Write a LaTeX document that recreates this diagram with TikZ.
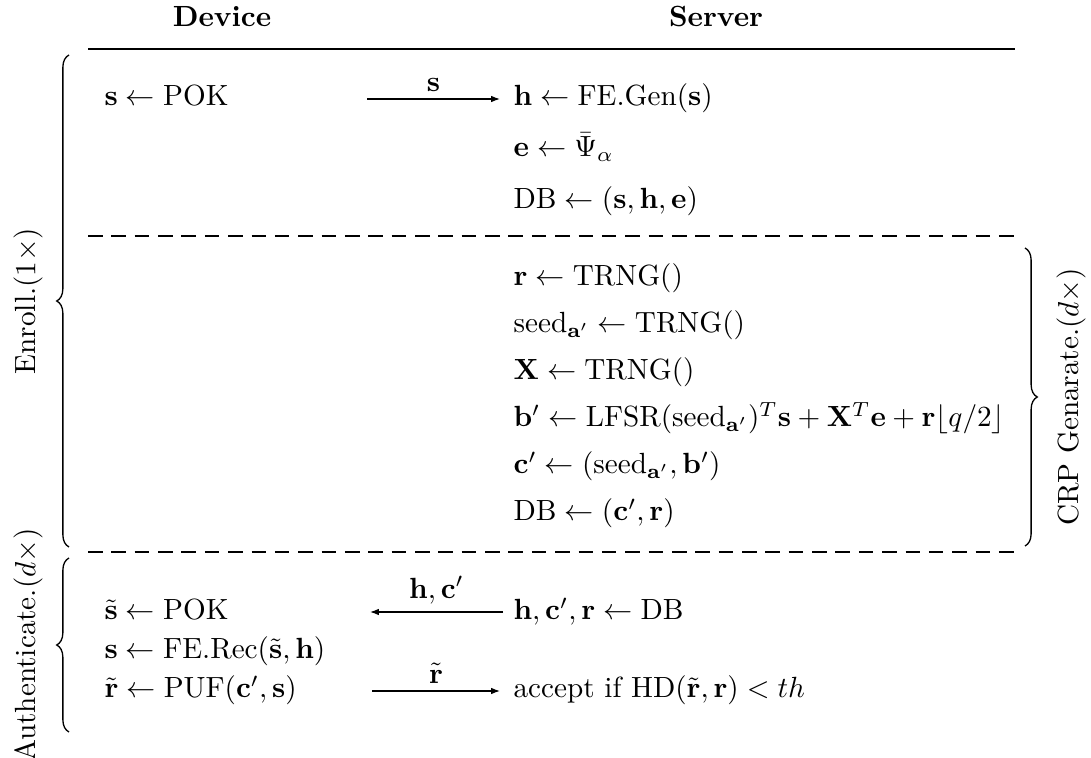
\documentclass[tikz,border=0pt]{standalone}
\usepackage{amsmath,amssymb}
\usetikzlibrary{decorations.pathreplacing,arrows.meta}
\begin{document}
\begin{tikzpicture}[x=0.3425pt,y=-0.3425pt,
  txt/.style={anchor=base west,inner sep=0pt},
  hdr/.style={anchor=base,inner sep=0pt,font=\bfseries},
  side/.style={rotate=90,inner sep=0pt},
  msg/.style={-{Latex[length=3pt,width=2.2pt]},line width=0.4pt},
  msglbl/.style={above=2.5pt,inner sep=0pt},
  rule/.style={line width=0.45pt},
  sep/.style={line width=0.45pt,dash pattern=on 5pt off 3pt},
  grp/.style={decorate,decoration={brace,amplitude=4.2pt},line width=0.45pt}]
\useasboundingbox (0,0) rectangle (1091,758);
% headers
\node[hdr] (hd) at (222,27) {Device};
\node[hdr] (hs) at (716,27) {Server};
\draw[rule] (88,49) -- (1015,49);
% enrolment
\node[txt] (d1) at (104,106) {$\mathbf{s} \leftarrow \mathrm{POK}$};
\node[txt] (s1) at (513,106) {$\mathbf{h} \leftarrow \mathrm{FE.Gen}(\mathbf{s})$};
\node[txt] (s2) at (513,157) {$\mathbf{e} \leftarrow \bar{\Psi}_\alpha$};
\node[txt] (s3) at (513,209) {$\mathrm{DB} \leftarrow (\mathbf{s},\mathbf{h},\mathbf{e})$};
\coordinate (a1s) at (367,99);
\coordinate (a1e) at (500,99);
\draw[msg] (a1s) -- node[msglbl] (l1) {$\mathbf{s}$} (a1e);
\draw[sep] (88,236) -- (1015,236);
% CRP generation
\node[txt] (g1) at (513,286) {$\mathbf{r} \leftarrow \mathrm{TRNG}()$};
\node[txt] (g2) at (513,333) {$\mathrm{seed}_{\mathbf{a}'} \leftarrow \mathrm{TRNG}()$};
\node[txt] (g3) at (513,380) {$\mathbf{X} \leftarrow \mathrm{TRNG}()$};
\node[txt] (g4) at (513,427) {$\mathbf{b}' \leftarrow \mathrm{LFSR}(\mathrm{seed}_{\mathbf{a}'})^T\mathbf{s} + \mathbf{X}^T\mathbf{e} + \mathbf{r}\lfloor q/2\rfloor$};
\node[txt] (g5) at (513,474) {$\mathbf{c}' \leftarrow (\mathrm{seed}_{\mathbf{a}'}, \mathbf{b}')$};
\node[txt] (g6) at (513,521) {$\mathrm{DB} \leftarrow (\mathbf{c}', \mathbf{r})$};
\draw[sep] (88,552) -- (1015,552);
% authentication
\node[txt] (u1) at (104,620) {$\tilde{\mathbf{s}} \leftarrow \mathrm{POK}$};
\node[txt] (v1) at (513,620) {$\mathbf{h},\mathbf{c}',\mathbf{r} \leftarrow \mathrm{DB}$};
\node[txt] (u2) at (104,659) {$\mathbf{s} \leftarrow \mathrm{FE.Rec}(\tilde{\mathbf{s}},\mathbf{h})$};
\node[txt] (u3) at (104,698) {$\tilde{\mathbf{r}} \leftarrow \mathrm{PUF}(\mathbf{c}',\mathbf{s})$};
\node[txt] (v3) at (513,698) {accept if $\mathrm{HD}(\tilde{\mathbf{r}},\mathbf{r}) < th$};
\coordinate (a2s) at (503,612);
\coordinate (a2e) at (370,612);
\draw[msg] (a2s) -- node[msglbl] (l2) {$\mathbf{h},\mathbf{c}'$} (a2e);
\coordinate (a3s) at (372,691);
\coordinate (a3e) at (500,691);
\draw[msg] (a3s) -- node[msglbl] (l3) {$\tilde{\mathbf{r}}$} (a3e);
% braces
\coordinate (be1) at (69,547);
\coordinate (bt1) at (69,55);
\draw[grp] (be1) -- (bt1);
\node[side] (le) at (28,301) {Enroll.$(1\times)$};
\coordinate (be2) at (69,732);
\coordinate (bt2) at (69,558);
\draw[grp] (be2) -- (bt2);
\node[side] (la) at (28,645) {Authenticate.$(d\times)$};
\coordinate (bt3) at (1025,248);
\coordinate (be3) at (1025,546);
\draw[grp] (bt3) -- (be3);
\node[side] (lc) at (1071,397) {CRP Genarate.$(d\times)$};
\end{tikzpicture}
\end{document}
